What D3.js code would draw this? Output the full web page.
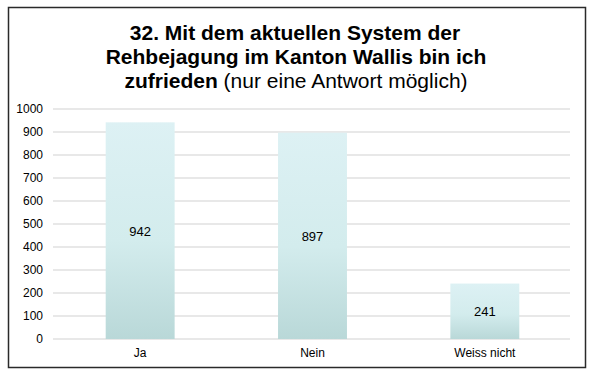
<!DOCTYPE html>
<html><head><meta charset="utf-8">
<script src="https://cdn.jsdelivr.net/npm/d3@7"></script>
<style>body{margin:0;background:#fff}svg{display:block}text{font-family:"Liberation Sans",Arial,sans-serif}</style>
</head><body>
<svg id="c" width="596" height="376"></svg>
<script>
const categories = ["Ja", "Nein", "Weiss nicht"];
const values = [942, 897, 241];
const yTicks = [0, 100, 200, 300, 400, 500, 600, 700, 800, 900, 1000];

const svg = d3.select("#c");
svg.append("rect").attr("x", 8.5).attr("y", 7.5).attr("width", 577).attr("height", 360)
  .attr("fill", "#fff").attr("stroke", "#2a2a2a").attr("stroke-width", 1.5);

const defs = svg.append("defs");
const g = defs.append("linearGradient").attr("id", "bg").attr("x1", 0).attr("y1", 0).attr("x2", 0).attr("y2", 1);
g.append("stop").attr("offset", "0%").attr("stop-color", "#ddf1f4");
g.append("stop").attr("offset", "55%").attr("stop-color", "#d3eced");
g.append("stop").attr("offset", "100%").attr("stop-color", "#b9d8d8");

// title
const t = svg.append("text").attr("text-anchor", "middle").attr("font-size", 21).attr("fill", "#000");
t.append("tspan").attr("x", 295).attr("y", 40).attr("font-weight", "bold").text("32. Mit dem aktuellen System der");
t.append("tspan").attr("x", 296).attr("y", 64).attr("font-weight", "bold").text("Rehbejagung im Kanton Wallis bin ich");
const l3 = t.append("tspan").attr("x", 296).attr("y", 88);
l3.append("tspan").attr("font-weight", "bold").text("zufrieden");
l3.append("tspan").text(" (nur eine Antwort möglich)");

const x = d3.scaleBand().domain(categories).range([54, 571]).paddingInner(0.6).paddingOuter(0.3);
const y = d3.scaleLinear().domain([0, 1000]).range([339, 109]);

// grid
svg.append("g").selectAll("line").data(yTicks).join("line")
  .attr("x1", 53).attr("x2", 570).attr("y1", d => y(d)).attr("y2", d => y(d))
  .attr("stroke", "#e0e0e0").attr("stroke-width", 1.5);

const yAxis = svg.append("g").attr("transform", "translate(53,0)")
  .call(d3.axisLeft(y).tickValues(yTicks).tickFormat(d3.format("d")).tickSize(0).tickPadding(10));
yAxis.select(".domain").remove();
yAxis.selectAll("text").attr("font-size", 12).attr("fill", "#000").style("font-family", '"Liberation Sans",Arial,sans-serif');

svg.append("g").selectAll("rect").data(values).join("rect")
  .attr("x", (d, i) => x(categories[i])).attr("width", x.bandwidth())
  .attr("y", d => y(d)).attr("height", d => y(0) - y(d)).attr("fill", "url(#bg)");

svg.append("g").selectAll("text").data(values).join("text")
  .attr("x", (d, i) => x(categories[i]) + x.bandwidth() / 2)
  .attr("y", d => (y(d) + y(0)) / 2 + 5)
  .attr("text-anchor", "middle").attr("font-size", 13).attr("fill", "#000").text(d => d);

const xAxis = svg.append("g").attr("transform", "translate(0,339)")
  .call(d3.axisBottom(x).tickSize(0).tickPadding(9));
xAxis.select(".domain").remove();
xAxis.selectAll("text").attr("font-size", 12).attr("fill", "#000").style("font-family", '"Liberation Sans",Arial,sans-serif');
</script>
</body></html>
